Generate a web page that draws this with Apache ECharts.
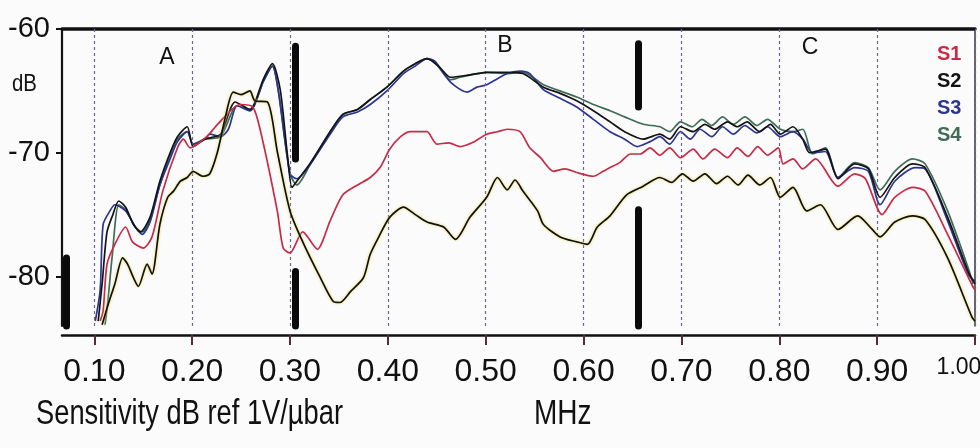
<!DOCTYPE html>
<html>
<head>
<meta charset="UTF-8" />
<title>Sensitivity</title>
<style>
  * { margin: 0; padding: 0; }
  html, body { background: #fbfbfb; }
  #chart { width: 980px; height: 448px; }
</style>
</head>
<body>
<div id="chart"></div>
<script src="https://cdn.jsdelivr.net/npm/echarts@6/dist/echarts.min.js"></script>
<script>
// [MHz, dB]
let s1 = [[0.106,-83.6],[0.109,-82.8],[0.113,-79.0],[0.121,-77.4],[0.132,-76.0],[0.139,-77.2],[0.150,-77.7],[0.159,-76.8],[0.170,-73.1],[0.185,-69.6],[0.191,-68.9],[0.198,-69.6],[0.215,-68.7],[0.226,-67.7],[0.249,-66.1],[0.262,-66.3],[0.270,-68.3],[0.287,-74.7],[0.293,-77.7],[0.300,-78.1],[0.313,-76.4],[0.328,-77.8],[0.341,-75.5],[0.354,-73.4],[0.369,-72.6],[0.382,-72.0],[0.392,-71.2],[0.402,-69.7],[0.413,-68.7],[0.423,-68.3],[0.430,-68.3],[0.440,-68.3],[0.450,-69.3],[0.462,-69.2],[0.474,-69.5],[0.486,-69.2],[0.501,-68.5],[0.512,-68.3],[0.522,-68.1],[0.535,-68.3],[0.545,-69.6],[0.556,-70.4],[0.569,-71.5],[0.581,-71.3],[0.593,-71.6],[0.610,-71.9],[0.620,-71.5],[0.627,-71.2],[0.637,-70.8],[0.648,-70.1],[0.658,-70.1],[0.668,-69.6],[0.678,-70.2],[0.688,-69.6],[0.699,-70.4],[0.712,-69.7],[0.722,-70.5],[0.734,-69.7],[0.747,-70.4],[0.757,-69.6],[0.768,-70.3],[0.778,-69.5],[0.788,-70.2],[0.799,-69.6],[0.804,-70.9],[0.814,-70.5],[0.824,-71.3],[0.837,-70.5],[0.860,-72.7],[0.877,-71.7],[0.888,-72.1],[0.905,-75.0],[0.918,-73.6],[0.936,-72.8],[0.949,-73.1],[0.972,-76.6],[0.997,-80.7],[1.000,-81.1]]

let s2 = [[0.108,-83.9],[0.114,-82.3],[0.121,-80.6],[0.129,-78.5],[0.134,-79.0],[0.140,-80.1],[0.145,-80.8],[0.154,-79.0],[0.159,-79.8],[0.167,-75.8],[0.175,-73.6],[0.181,-73.1],[0.188,-72.3],[0.195,-72.0],[0.201,-71.5],[0.211,-71.9],[0.218,-71.7],[0.226,-69.9],[0.234,-67.1],[0.242,-65.1],[0.250,-65.3],[0.259,-65.0],[0.264,-65.8],[0.277,-65.9],[0.287,-69.9],[0.300,-74.7],[0.313,-77.2],[0.331,-80.1],[0.344,-82.0],[0.351,-82.1],[0.362,-81.2],[0.375,-80.1],[0.382,-78.2],[0.392,-76.6],[0.402,-75.2],[0.416,-74.4],[0.428,-75.0],[0.440,-75.6],[0.457,-76.0],[0.469,-77.0],[0.484,-75.2],[0.501,-73.6],[0.512,-72.0],[0.522,-73.0],[0.530,-72.2],[0.538,-73.1],[0.553,-74.7],[0.559,-75.8],[0.576,-76.8],[0.593,-77.2],[0.604,-77.4],[0.614,-76.0],[0.627,-75.1],[0.644,-73.4],[0.661,-72.7],[0.678,-72.0],[0.690,-72.4],[0.701,-71.7],[0.712,-72.3],[0.724,-71.7],[0.736,-72.5],[0.747,-71.9],[0.758,-72.6],[0.768,-71.8],[0.780,-72.6],[0.791,-72.0],[0.801,-73.6],[0.814,-72.8],[0.828,-74.7],[0.842,-74.2],[0.860,-76.2],[0.880,-75.1],[0.895,-76.2],[0.903,-76.8],[0.918,-75.6],[0.936,-75.1],[0.949,-75.4],[0.972,-78.5],[0.997,-83.3],[1.000,-83.6]]

let s3 = [[0.101,-83.6],[0.106,-81.1],[0.109,-75.8],[0.116,-74.7],[0.121,-74.2],[0.132,-74.7],[0.142,-76.0],[0.149,-76.6],[0.157,-75.6],[0.167,-72.6],[0.178,-70.4],[0.185,-69.1],[0.195,-68.3],[0.201,-69.3],[0.213,-68.9],[0.218,-68.5],[0.229,-68.7],[0.237,-68.1],[0.246,-66.2],[0.259,-66.6],[0.273,-64.2],[0.282,-63.0],[0.288,-65.0],[0.300,-71.7],[0.307,-72.1],[0.321,-70.9],[0.341,-68.5],[0.354,-67.1],[0.369,-66.7],[0.382,-66.1],[0.399,-65.0],[0.416,-63.6],[0.428,-63.0],[0.440,-62.4],[0.448,-62.6],[0.464,-64.3],[0.481,-65.1],[0.491,-64.7],[0.501,-64.5],[0.522,-63.6],[0.535,-63.4],[0.545,-63.6],[0.559,-64.9],[0.576,-65.6],[0.593,-66.3],[0.610,-67.3],[0.627,-68.3],[0.642,-68.9],[0.655,-69.5],[0.668,-69.1],[0.678,-68.7],[0.688,-69.3],[0.699,-68.3],[0.709,-68.9],[0.719,-68.1],[0.731,-68.7],[0.742,-67.9],[0.753,-68.5],[0.765,-67.8],[0.777,-68.4],[0.788,-67.9],[0.801,-68.7],[0.814,-68.3],[0.824,-68.9],[0.834,-70.0],[0.847,-69.9],[0.860,-72.0],[0.877,-71.2],[0.891,-71.5],[0.903,-74.2],[0.918,-72.3],[0.939,-71.2],[0.949,-71.3],[0.972,-75.5],[0.993,-79.8],[1.000,-80.4]]

let s4 = [[0.111,-83.9],[0.114,-81.9],[0.118,-78.6],[0.125,-74.2],[0.132,-74.6],[0.142,-76.0],[0.149,-76.4],[0.157,-75.4],[0.167,-72.6],[0.178,-70.1],[0.185,-68.9],[0.195,-68.3],[0.201,-69.3],[0.213,-68.9],[0.229,-68.7],[0.246,-66.2],[0.259,-66.6],[0.273,-64.2],[0.282,-63.0],[0.288,-64.9],[0.300,-71.7],[0.307,-72.6],[0.321,-70.9],[0.341,-68.3],[0.354,-66.9],[0.369,-66.5],[0.382,-65.7],[0.399,-64.7],[0.416,-63.4],[0.428,-62.8],[0.440,-62.4],[0.448,-62.7],[0.464,-64.1],[0.474,-63.9],[0.501,-63.5],[0.522,-63.6],[0.538,-63.5],[0.559,-64.5],[0.576,-65.0],[0.593,-65.5],[0.610,-66.1],[0.627,-66.6],[0.642,-67.1],[0.661,-67.7],[0.678,-67.9],[0.688,-68.3],[0.699,-67.5],[0.711,-67.9],[0.721,-67.3],[0.731,-67.8],[0.742,-67.1],[0.753,-67.7],[0.765,-67.1],[0.777,-67.8],[0.788,-67.3],[0.801,-68.1],[0.814,-68.3],[0.824,-68.1],[0.834,-70.1],[0.847,-69.6],[0.860,-72.0],[0.877,-70.8],[0.891,-71.2],[0.903,-73.0],[0.918,-71.5],[0.936,-70.5],[0.949,-70.9],[0.972,-74.7],[0.993,-79.3],[0.998,-80.6]]

// unlabelled black trace that runs with S3/S4
let ref = [[0.104,-83.6],[0.108,-80.6],[0.113,-76.4],[0.119,-75.0],[0.125,-73.9],[0.132,-74.4],[0.140,-75.8],[0.147,-76.4],[0.157,-75.2],[0.167,-72.3],[0.178,-69.9],[0.185,-68.7],[0.195,-67.9],[0.201,-69.5],[0.213,-68.9],[0.229,-68.5],[0.244,-65.9],[0.259,-66.5],[0.273,-64.0],[0.282,-62.8],[0.290,-64.9],[0.297,-69.9],[0.302,-72.8],[0.307,-72.3],[0.321,-70.8],[0.341,-68.3],[0.354,-66.9],[0.369,-66.5],[0.382,-65.7],[0.399,-64.7],[0.416,-63.4],[0.428,-62.8],[0.440,-62.4],[0.453,-63.1],[0.464,-63.9],[0.484,-63.7],[0.501,-63.5],[0.522,-63.5],[0.538,-63.6],[0.559,-64.7],[0.576,-65.2],[0.593,-65.8],[0.610,-66.6],[0.627,-67.5],[0.642,-68.3],[0.661,-68.9],[0.678,-68.5],[0.688,-68.9],[0.699,-67.9],[0.712,-68.3],[0.724,-67.7],[0.734,-68.1],[0.747,-67.5],[0.757,-67.9],[0.767,-67.5],[0.780,-68.3],[0.791,-67.7],[0.801,-68.5],[0.814,-67.9],[0.824,-68.9],[0.831,-70.0],[0.847,-69.7],[0.860,-72.1],[0.877,-70.9],[0.891,-71.3],[0.903,-73.6],[0.918,-72.0],[0.936,-70.9],[0.949,-71.2],[0.972,-75.2],[0.993,-79.6],[1.000,-80.6]]

let xTicks = [0.1, 0.2, 0.3, 0.4, 0.5, 0.6, 0.7, 0.8, 0.9, 1.0]
let yTicks = [-60, -70, -80]

// thick region markers: [MHz, dB from, dB to]
let bars = [[0.305, -61.4, -70.5], [0.305, -79.6, -84], [0.656, -61.2, -66.3], [0.656, -74.6, -84], [0.071, -78.5, -84]]

let regions = [['A', 167, 58], ['B', 505, 46], ['C', 810, 48]]

let colors = { S1: '#c62c45', S2: '#111111', S3: '#2c3590', S4: '#3f6c56', ref: '#141414' }
let font = "'Liberation Sans', Arial, sans-serif"

let chart = echarts.init(document.getElementById('chart'))

function line(name, data, color, z) {
  return {
    name: name, type: 'line', data: data, symbol: 'none', z: z, smooth: 0.25,
    lineStyle: { color: color, width: 1.7 }, itemStyle: { color: color },
    animation: false
  }
}

let s2Series = line('S2', s2, colors.S2, 6)
s2Series.lineStyle.shadowColor = '#e8d64a'
s2Series.lineStyle.shadowBlur = 3

let option = {
  backgroundColor: '#fbfbfb',
  animation: false,
  grid: { left: 62, right: 5, top: 29, bottom: 122, outerBoundsMode: 'none' },
  xAxis: [{
    type: 'value', min: 0.067, max: 1.0, position: 'bottom', offset: 9,
    axisLine: { lineStyle: { color: '#111', width: 2.5 } },
    axisTick: { customValues: xTicks, length: 10, inside: false, lineStyle: { color: '#5a2a3a', width: 2 } },
    axisLabel: {
      customValues: xTicks, margin: 21, color: '#111', fontFamily: font, fontSize: 32,
      formatter: v => v >= 0.999 ? '{e|1.00}' : v.toFixed(2),
      rich: { e: { fontSize: 23, fontFamily: font, color: '#111', padding: [0, 32, 12, 0] } }
    },
    splitLine: { show: false }
  }, {
    type: 'value', min: 0.067, max: 1.0, position: 'top',
    axisLine: { lineStyle: { color: '#111', width: 3.5 } },
    axisTick: { show: false }, axisLabel: { show: false }, splitLine: { show: false }
  }],
  yAxis: [{
    type: 'value', min: -84, max: -60, position: 'left',
    axisLine: { show: true, lineStyle: { color: '#111', width: 2.2 } },
    axisTick: { show: true, customValues: yTicks, length: 6, lineStyle: { color: '#111', width: 2 } },
    axisLabel: { customValues: yTicks, margin: 12, color: '#111', fontFamily: font, fontSize: 29 },
    splitLine: { show: false }
  }, {
    type: 'value', min: -84, max: -60, position: 'right',
    axisLine: { show: true, lineStyle: { color: '#333', width: 1.5 } },
    axisTick: { show: false }, axisLabel: { show: false }, splitLine: { show: false }
  }],
  legend: {
    orient: 'vertical', left: 927, top: 39, icon: 'none', itemWidth: 0, itemGap: 7,
    textStyle: { fontFamily: font, fontSize: 20, fontWeight: 'bold' },
    data: ['S1', 'S2', 'S3', 'S4'].map(n => ({ name: n, textStyle: { color: colors[n] } }))
  },
  graphic: [
    { type: 'text', x: 12, y: 72, scaleX: 0.85, style: { text: 'dB', font: '24px ' + font, fill: '#111' } },
    { type: 'text', x: 36, y: 397, scaleX: 0.78, style: { text: 'Sensitivity dB ref 1V/\u00b5bar', font: '35px ' + font, fill: '#111' } },
    { type: 'text', x: 534, y: 397, scaleX: 0.8, style: { text: 'MHz', font: '35px ' + font, fill: '#111' } }
  ].concat(regions.map(r => ({
    type: 'text', x: r[1], y: r[2], style: { text: r[0], font: '23px ' + font, fill: '#111', align: 'center', verticalAlign: 'middle' }
  }))),
  series: [
    {
      type: 'line', data: [], z: 1, silent: true,
      markLine: {
        symbol: 'none', silent: true, label: { show: false }, animation: false,
        lineStyle: { color: '#6f6690', type: [3, 3], width: 1.2 },
        data: xTicks.map(v => ({ xAxis: v }))
      }
    },
    line('S4', s4, colors.S4, 3),
    line('S3', s3, colors.S3, 4),
    line('ref', ref, colors.ref, 5),
    line('S1', s1, colors.S1, 5),
    s2Series,
    {
      type: 'line', data: [], z: 10, silent: true,
      markLine: {
        symbol: 'none', silent: true, label: { show: false }, animation: false,
        lineStyle: { color: '#0a0a0a', type: 'solid', width: 7, cap: 'round' },
        data: bars.map(b => [{ coord: [b[0], b[1]] }, { coord: [b[0], b[2]] }])
      }
    }
  ]
}

chart.setOption(option)
</script>
</body>
</html>
